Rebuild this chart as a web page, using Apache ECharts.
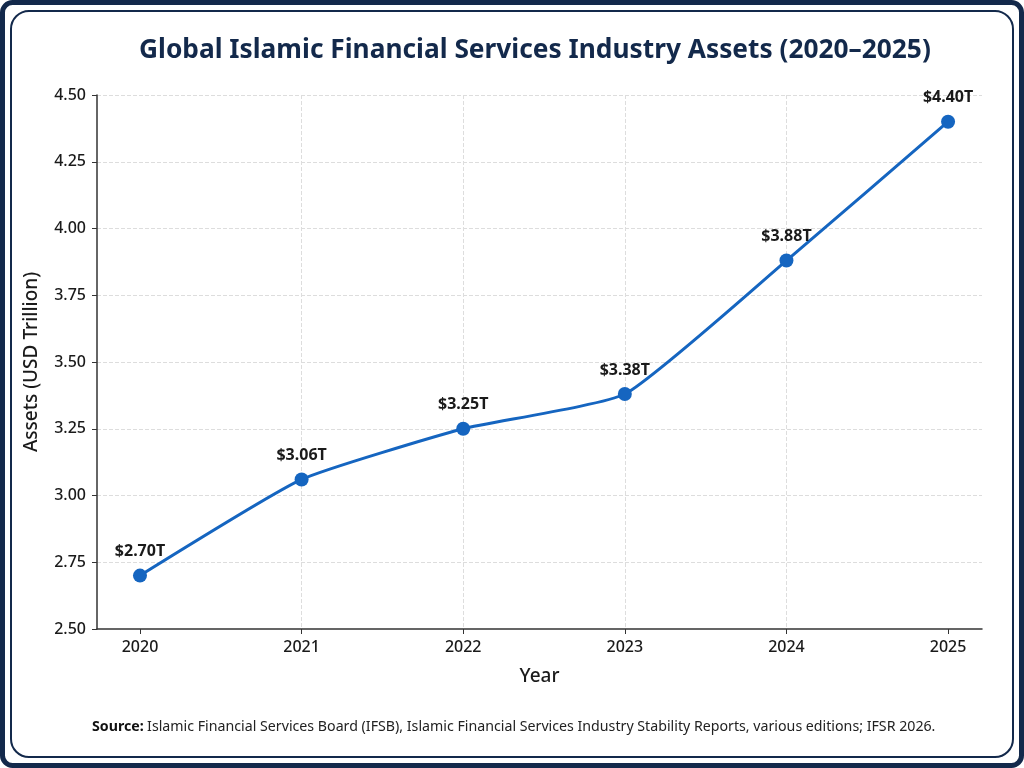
<!DOCTYPE html>
<html>
<head>
<meta charset="utf-8">
<script src="https://cdn.jsdelivr.net/npm/echarts@6/dist/echarts.min.js"></script>
<style>
html,body{margin:0;padding:0;background:#fff;}
#c{width:1024px;height:768px;}
</style>
</head>
<body>
<div id="c"></div>
<script>
const years = [2020, 2021, 2022, 2023, 2024, 2025];
const assets = [2.70, 3.06, 3.25, 3.38, 3.88, 4.40];
const yTicks = [2.50, 2.75, 3.00, 3.25, 3.50, 3.75, 4.00, 4.25, 4.50];

const FONT = '"Noto Sans", "DejaVu Sans", sans-serif';
const navy = '#13294b';
const chart = echarts.init(document.getElementById('c'));
const points = years.map((y, i) => [y, assets[i]]);

chart.setOption({
  backgroundColor: '#ffffff',
  animation: false,
  title: {
    text: 'Global Islamic Financial Services Industry Assets (2020\u20132025)',
    left: 134,
    top: 33,
    textStyle: { fontFamily: FONT, fontSize: 26.3, fontWeight: 'bold', color: navy }
  },
  grid: { left: 97, right: 42, top: 95, bottom: 139 },
  xAxis: {
    type: 'value',
    min: 2019.734,
    max: 2025.21,
    minInterval: 1,
    maxInterval: 1,
    name: 'Year',
    nameLocation: 'middle',
    nameGap: 38,
    nameTextStyle: { fontFamily: FONT, fontSize: 19, fontWeight: 500, color: '#1a1a1a' },
    axisLine: { show: true, lineStyle: { color: '#333', width: 1.5 } },
    axisTick: { show: true, length: 5, lineStyle: { color: '#333' },
      customValues: years },
    axisLabel: { fontFamily: FONT, fontSize: 16, fontWeight: 500, color: '#1a1a1a', margin: 10,
      customValues: years,
      formatter: v => String(v) },
    splitLine: { show: true, showMinLine: false, showMaxLine: false,
      lineStyle: { color: '#dddddd', type: 'dashed', width: 1 } }
  },
  yAxis: {
    type: 'value',
    min: yTicks[0],
    max: yTicks[yTicks.length - 1],
    interval: 0.25,
    name: 'Assets (USD Trillion)',
    nameLocation: 'middle',
    nameGap: 56,
    nameTextStyle: { fontFamily: FONT, fontSize: 19, fontWeight: 500, color: '#1a1a1a' },
    axisLine: { show: true, lineStyle: { color: '#333', width: 1.5 } },
    axisTick: { show: true, length: 5, lineStyle: { color: '#333' } },
    axisLabel: { fontFamily: FONT, fontSize: 16, fontWeight: 500, color: '#1a1a1a', margin: 11,
      formatter: v => v.toFixed(2) },
    splitLine: { show: true, showMinLine: false,
      lineStyle: { color: '#dddddd', type: 'dashed', width: 1 } }
  },
  series: [{
    type: 'line',
    data: points,
    smooth: 0.15,
    symbol: 'circle',
    symbolSize: 14,
    lineStyle: { color: '#1565c0', width: 3 },
    itemStyle: { color: '#1565c0' },
    label: {
      show: true,
      position: 'top',
      distance: 9,
      fontFamily: FONT,
      fontSize: 16,
      fontWeight: 'bold',
      color: '#1a1a1a',
      formatter: p => '$' + p.value[1].toFixed(2) + 'T'
    }
  }],
  graphic: [
    { type: 'rect', shape: { x: 2.5, y: 2.5, width: 1019, height: 763, r: 10 },
      style: { fill: 'none', stroke: navy, lineWidth: 5 }, silent: true },
    { type: 'rect', shape: { x: 11, y: 11, width: 1002, height: 746, r: 18 },
      style: { fill: 'none', stroke: navy, lineWidth: 2 }, silent: true },
    { type: 'text', left: 92, top: 720,
      style: {
        text: '{b|Source:} {r|Islamic Financial Services Board (IFSB), Islamic Financial Services Industry Stability Reports, various editions; IFSR 2026.}',
        rich: {
          b: { fontFamily: FONT, fontSize: 14.2, fontWeight: 'bold', fill: '#111' },
          r: { fontFamily: FONT, fontSize: 14.2, fill: '#222' }
        }
      } }
  ]
});
</script>
</body>
</html>
